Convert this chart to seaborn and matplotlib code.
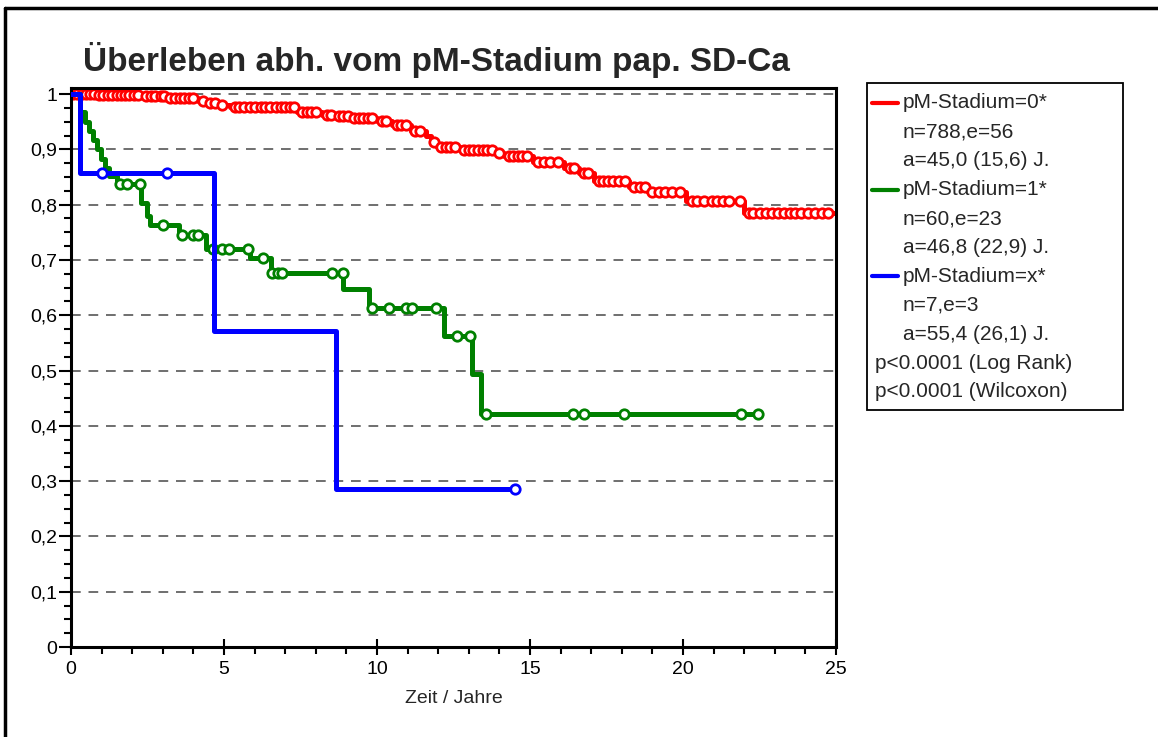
import numpy as np
import pandas as pd
import matplotlib.pyplot as plt
import seaborn as sns
from matplotlib.lines import Line2D
from matplotlib.patches import Rectangle
from matplotlib.ticker import MultipleLocator

# Kaplan-Meier step data (time in years, survival after step)
red_t = [0.9, 2.3, 3.1, 4.15, 4.45, 4.8, 5.2, 7.4, 8.2, 8.6, 9.1, 10.0, 10.5, 11.1,
         11.6, 11.75, 11.95, 12.7, 13.9, 14.15, 15.1, 16.1, 16.6, 17.1, 18.25, 18.85,
         20.1, 22.0]
red_s = [0.999, 0.996, 0.993, 0.987, 0.984, 0.980, 0.977, 0.968, 0.963, 0.960, 0.957,
         0.951, 0.944, 0.933, 0.924, 0.914, 0.905, 0.899, 0.893, 0.888, 0.877, 0.866,
         0.857, 0.843, 0.832, 0.823, 0.806, 0.785]
red_end = 25.0
red_cens = [0.05, 0.2, 0.35, 0.5, 0.62, 0.75, 0.9, 1.05, 1.2, 1.35, 1.5, 1.62, 1.75,
            1.9, 2.05, 2.2, 2.45, 2.6, 2.75, 2.95, 3.05, 3.25, 3.4, 3.55, 3.7, 3.85,
            4.0, 4.3, 4.55, 4.7, 4.95, 5.35, 5.5, 5.65, 5.85, 6.0, 6.2, 6.35, 6.5, 6.7,
            6.85, 7.0, 7.15, 7.3, 7.55, 7.7, 7.85, 8.0, 8.35, 8.5, 8.75, 8.9, 9.05,
            9.25, 9.4, 9.55, 9.7, 9.85, 10.15, 10.3, 10.65, 10.8, 10.95, 11.25, 11.4,
            11.85, 12.1, 12.25, 12.4, 12.55, 12.85, 13.0, 13.15, 13.3, 13.45, 13.6,
            13.75, 14.0, 14.3, 14.45, 14.6, 14.75, 14.9, 15.25, 15.45, 15.65, 15.9,
            16.3, 16.45, 16.75, 16.9, 17.25, 17.4, 17.55, 17.7, 17.9, 18.1, 18.4, 18.6,
            18.75, 19.0, 19.2, 19.4, 19.65, 19.9, 20.3, 20.45, 20.7, 20.95, 21.1, 21.3,
            21.5, 21.85, 22.15, 22.3, 22.5, 22.7, 22.9, 23.1, 23.3, 23.5, 23.65, 23.85,
            24.1, 24.3, 24.55, 24.75]

green_t = [0.28, 0.45, 0.58, 0.72, 0.85, 0.98, 1.1, 1.25, 1.5, 2.3, 2.48, 2.58, 3.53,
           4.41, 5.85, 6.54, 8.9, 9.74, 12.19, 13.1, 13.4]
green_s = [0.967, 0.95, 0.933, 0.917, 0.9, 0.883, 0.867, 0.852, 0.837, 0.803, 0.78,
           0.764, 0.746, 0.72, 0.703, 0.677, 0.647, 0.613, 0.562, 0.493, 0.422]
green_end = 22.45
green_cens = [1.6, 1.84, 2.26, 3.0, 3.63, 3.99, 4.15, 4.64, 4.93, 5.16, 5.78, 6.27,
              6.57, 6.76, 6.9, 8.53, 8.88, 9.84, 10.39, 10.95, 11.14, 11.93, 12.61,
              13.04, 13.56, 16.4, 16.76, 18.07, 21.9, 22.45]

blue_t = [0.3, 4.67, 8.66]
blue_s = [0.857, 0.571, 0.286]
blue_end = 14.5
blue_cens = [1.0, 3.13, 14.5]

y_ticks = [0, 0.1, 0.2, 0.3, 0.4, 0.5, 0.6, 0.7, 0.8, 0.9, 1.0]
y_labels = ["0", "0,1", "0,2", "0,3", "0,4", "0,5", "0,6", "0,7", "0,8", "0,9", "1"]
x_ticks = [0, 5, 10, 15, 20, 25]

legend_lines = [
    ("red", "pM-Stadium=0*"), (None, "n=788,e=56"), (None, "a=45,0 (15,6) J."),
    ("green", "pM-Stadium=1*"), (None, "n=60,e=23"), (None, "a=46,8 (22,9) J."),
    ("blue", "pM-Stadium=x*"), (None, "n=7,e=3"), (None, "a=55,4 (26,1) J."),
]
p_lines = ["p<0.0001 (Log Rank)", "p<0.0001 (Wilcoxon)"]

colors = {"red": "#ff0000", "green": "#008000", "blue": "#0000ff"}

sns.set_theme(style="white")
plt.rcParams["font.family"] = ["Liberation Sans", "DejaVu Sans"]

W, H = 1158, 737
fig = plt.figure(figsize=(W / 100, H / 100), dpi=100)
ax = fig.add_axes([71 / W, 1 - 647 / H, (836 - 71) / W, (647 - 88) / H])


def km_frame(times, surv, end):
    t = [0.0] + list(times) + [end]
    s = [1.0] + list(surv) + [surv[-1]]
    return pd.DataFrame({"t": t, "s": s})


def cens_frame(times, surv, cens):
    idx = np.searchsorted(times, cens, side="right") - 1
    s = np.where(idx < 0, 1.0, np.array(surv)[np.clip(idx, 0, None)])
    return pd.DataFrame({"t": cens, "s": s})


# horizontal dashed grid
for yv in y_ticks[1:]:
    ax.axhline(yv, color="#6f6f6f", linestyle=(0, (5, 4)), linewidth=1.4, zorder=0)

groups = [
    ("red", red_t, red_s, red_end, red_cens),
    ("green", green_t, green_s, green_end, green_cens),
    ("blue", blue_t, blue_s, blue_end, blue_cens),
]
for i, (name, t, s, end, cens) in enumerate(groups):
    c = colors[name]
    sns.lineplot(data=km_frame(t, s, end), x="t", y="s", drawstyle="steps-post",
                 color=c, linewidth=3.6, ax=ax, zorder=2 + i, estimator=None, sort=False)
    sns.scatterplot(data=cens_frame(t, s, cens), x="t", y="s", marker="o", s=46,
                    facecolor="white", edgecolor=c, linewidth=2.0, ax=ax, zorder=2.5 + i)

ax.set_xlim(0, 25)
ax.set_ylim(0, 1.011)
ax.set_yticks(y_ticks)
ax.set_yticklabels(y_labels)
ax.set_xticks(x_ticks)
ax.set_xticklabels([str(v) for v in x_ticks])
ax.xaxis.set_minor_locator(MultipleLocator(1))
ax.yaxis.set_minor_locator(MultipleLocator(0.025))
ax.tick_params(axis="y", which="major", direction="out", length=9, width=1.5,
               labelsize=14, pad=1, color="black", labelcolor="black", left=True)
ax.tick_params(axis="y", which="minor", direction="out", length=5, width=1.5,
               color="black", left=True)
ax.tick_params(axis="x", which="major", direction="inout", length=12, width=1.5,
               labelsize=14, pad=4, color="black", labelcolor="black", bottom=True)
ax.tick_params(axis="x", which="minor", direction="out", length=5, width=1.5,
               color="black", bottom=True)
for sp in ax.spines.values():
    sp.set_color("black")
    sp.set_linewidth(2.2)
ax.set_xlabel("Zeit / Jahre", fontsize=14, labelpad=9)
ax.set_ylabel("")

fig.text(83 / W, 1 - 60 / H, "Überleben abh. vom pM-Stadium pap. SD-Ca",
         fontsize=24, fontweight="bold", ha="left", va="center")

# legend box drawn by hand (matches the original layout)
fig.patches.append(Rectangle((867 / W, 1 - 410 / H), (1123 - 867) / W, (410 - 83) / H,
                             transform=fig.transFigure, fill=False,
                             edgecolor="black", linewidth=1.3))
line_y = 103
for col, txt in legend_lines:
    yy = 1 - line_y / H
    if col:
        fig.add_artist(Line2D([872 / W, 898 / W], [yy, yy], color=colors[col],
                              linewidth=3, transform=fig.transFigure))
    fig.text(903 / W, yy, txt, fontsize=15, ha="left", va="center")
    line_y += 28.9
for txt in p_lines:
    fig.text(875 / W, 1 - line_y / H, txt, fontsize=15, ha="left", va="center")
    line_y += 28.9

# outer frame (left and top edges visible in the original)
fig.add_artist(Line2D([5 / W, 5 / W], [0, 1 - 8 / H], color="black", linewidth=2.5,
                      transform=fig.transFigure))
fig.add_artist(Line2D([5 / W, 1], [1 - 8 / H, 1 - 8 / H], color="black", linewidth=2.5,
                      transform=fig.transFigure))

fig.savefig("out.png", dpi=100)
